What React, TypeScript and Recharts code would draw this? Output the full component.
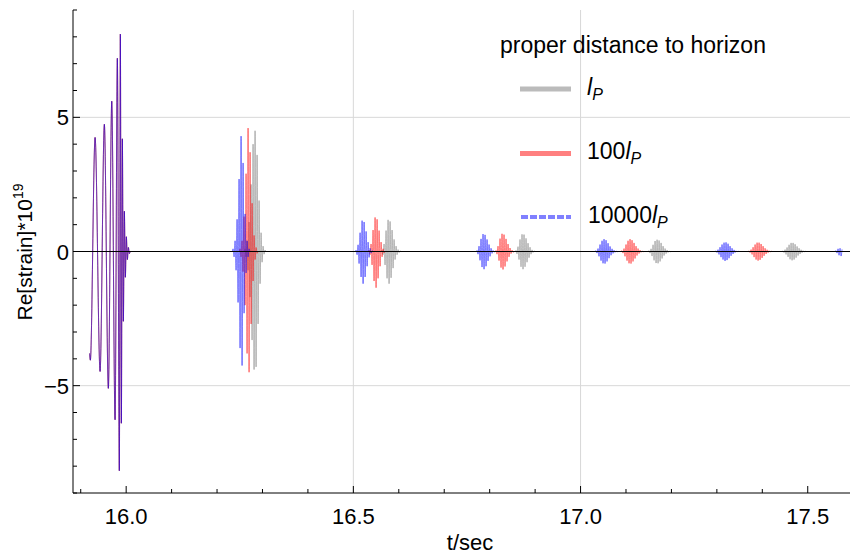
import { LineChart, Line, XAxis, YAxis, ReferenceLine } from 'recharts';

// main merger burst, shared by all three runs (t in sec, strain * 1e19)
const burstTimes = [
  15.9195, 15.9212, 15.9316, 15.9426, 15.952, 15.9608, 15.9683, 15.9756, 15.9806, 15.985,
  15.9872, 15.9894, 15.9916, 15.9938, 15.996, 15.9982, 16.0004, 16.0026, 16.0048, 16.007, 16.0092,
];
const burstValues = [
  -3.8, -4.05, 4.25, -4.47, 4.74, -5.1, 5.6, -6.27, 7.2, -8.17,
  8.1, -6.4, 4.2, -2.6, 1.5, -0.96, 0.55, -0.3, 0.15, -0.08, 0,
];

// echoes: one extremum per sample
const sampleStep = 0.0022;
const dataEnd = 17.5757;

const blueEchoStarts = [16.2353, 16.506, 16.7722, 17.0341, 17.2982, 17.5623];
const redEchoStarts = [16.2507, 16.5346, 16.814, 17.0913, 17.3709];
const grayEchoStarts = [16.2617, 16.5632, 16.858, 17.1508, 17.4457];

const blueEcho1 = [0.1, -0.2, 0.4, -0.7, 1.2, -1.9, 2.7, -3.6, 4.3, -4.25, 3.3, -2.3, 1.4, -0.8, 0.4, -0.2, 0.1];
const blueEcho2 = [0.05, -0.12, 0.25, -0.45, 0.7, -0.95, 1.15, -1.2, 1.1, -0.95, 0.75, -0.55, 0.35, -0.22, 0.12, -0.06, 0.03];
const blueEcho3 = [0.04, -0.1, 0.2, -0.33, 0.47, -0.58, 0.65, -0.66, 0.62, -0.55, 0.45, -0.35, 0.26, -0.18, 0.12, -0.07, 0.04, -0.02];
const blueEcho4 = [0.03, -0.06, 0.11, -0.18, 0.26, -0.34, 0.4, -0.44, 0.46, -0.45, 0.42, -0.37, 0.31, -0.25, 0.19, -0.14, 0.1, -0.07, 0.045, -0.03, 0.02, -0.01];
const blueEcho5 = [0.02, -0.04, 0.07, -0.11, 0.16, -0.21, 0.26, -0.3, 0.33, -0.35, 0.34, -0.32, 0.29, -0.25, 0.2, -0.16, 0.12, -0.09, 0.06, -0.04, 0.025, -0.015, 0.01];
const blueEcho6 = [0.03, -0.06, 0.1, -0.14, 0.12, -0.17, 0.08];

const redEcho1 = [0.1, -0.2, 0.4, -0.75, 1.3, -2.0, 2.9, -3.8, 4.6, -4.5, 3.7, -2.7, 1.8, -1.1, 0.6, -0.3, 0.15, -0.07];
const redEcho2 = [0.05, -0.12, 0.28, -0.5, 0.8, -1.1, 1.27, -1.35, 1.2, -1.0, 0.78, -0.55, 0.35, -0.2, 0.1, -0.05];
const redEcho3 = [0.04, -0.1, 0.2, -0.34, 0.48, -0.6, 0.66, -0.67, 0.63, -0.56, 0.47, -0.37, 0.28, -0.2, 0.13, -0.08, 0.05, -0.03];
const redEcho4 = [0.03, -0.06, 0.11, -0.18, 0.26, -0.34, 0.4, -0.44, 0.46, -0.45, 0.42, -0.37, 0.32, -0.26, 0.2, -0.15, 0.11, -0.075, 0.05, -0.03, 0.02, -0.01];
const redEcho5 = [0.02, -0.04, 0.07, -0.11, 0.16, -0.21, 0.26, -0.3, 0.33, -0.34, 0.33, -0.31, 0.28, -0.24, 0.2, -0.16, 0.12, -0.09, 0.065, -0.045, 0.03, -0.02, 0.01];

const grayEcho1 = [0.1, -0.2, 0.4, -0.7, 1.1, -1.7, 2.5, -3.3, 4.0, -4.4, 4.5, -4.3, 3.6, -2.7, 1.9, -1.2, 0.7, -0.4, 0.2, -0.1, 0.05];
const grayEcho2 = [0.05, -0.12, 0.28, -0.5, 0.78, -1.0, 1.18, -1.2, 1.12, -0.98, 0.8, -0.62, 0.45, -0.3, 0.2, -0.12, 0.07, -0.04, 0.02];
const grayEcho3 = [0.04, -0.09, 0.18, -0.3, 0.45, -0.57, 0.64, -0.66, 0.63, -0.57, 0.49, -0.4, 0.31, -0.23, 0.16, -0.1, 0.06, -0.035, 0.02];
const grayEcho4 = [0.03, -0.06, 0.1, -0.17, 0.25, -0.33, 0.39, -0.43, 0.44, -0.44, 0.41, -0.37, 0.32, -0.26, 0.2, -0.15, 0.11, -0.08, 0.055, -0.035, 0.02, -0.01];
const grayEcho5 = [0.02, -0.04, 0.07, -0.11, 0.15, -0.2, 0.25, -0.29, 0.32, -0.33, 0.32, -0.3, 0.27, -0.23, 0.19, -0.15, 0.12, -0.09, 0.065, -0.045, 0.03, -0.02, 0.01];

const xTicks = [15.9, 16, 16.1, 16.2, 16.3, 16.4, 16.5, 16.6, 16.7, 16.8, 16.9, 17, 17.1, 17.2, 17.3, 17.4, 17.5];
const xMajor = [16, 16.5, 17, 17.5];
const yTicks = [-9, -8, -7, -6, -5, -4, -3, -2, -1, 0, 1, 2, 3, 4, 5, 6, 7, 8, 9];
const yMajor = [-5, 0, 5];

const FONT = '"Liberation Sans", Arial, Helvetica, sans-serif';
const PLOT_LEFT = 73;
const PLOT_BOTTOM = 493;

type Pt = { t: number; v: number };

function buildSeries(starts: number[], echoes: number[][], openEnd: boolean): Pt[] {
  const pts: Pt[] = burstTimes.map((t, i) => ({ t, v: burstValues[i] }));
  echoes.forEach((vals, k) => {
    const s = starts[k];
    pts.push({ t: s - sampleStep, v: 0 });
    vals.forEach((v, i) => pts.push({ t: s + i * sampleStep, v }));
    if (!(openEnd && k === echoes.length - 1)) pts.push({ t: s + vals.length * sampleStep, v: 0 });
  });
  if (!openEnd) pts.push({ t: dataEnd, v: 0 });
  return pts;
}

const graySeries = buildSeries(grayEchoStarts, [grayEcho1, grayEcho2, grayEcho3, grayEcho4, grayEcho5], false);
const redSeries = buildSeries(redEchoStarts, [redEcho1, redEcho2, redEcho3, redEcho4, redEcho5], false);
const blueSeries = buildSeries(blueEchoStarts, [blueEcho1, blueEcho2, blueEcho3, blueEcho4, blueEcho5, blueEcho6], true);

const isIn = (arr: number[], v: number) => arr.some((a) => Math.abs(a - v) < 1e-6);

// ticks point into the plot, like the original frame
const XTick = (props: any) => {
  const { x, payload } = props;
  const major = isIn(xMajor, payload.value);
  const y = PLOT_BOTTOM;
  return (
    <g>
      <line x1={x} x2={x} y1={y} y2={y - (major ? 7 : 4)} stroke="#000" strokeWidth={1} />
      {major && (
        <text x={x} y={y + 31} textAnchor="middle" fontSize={22} fontFamily={FONT} fill="#000">
          {payload.value.toFixed(1)}
        </text>
      )}
    </g>
  );
};

const YTick = (props: any) => {
  const { y, payload } = props;
  const major = isIn(yMajor, payload.value);
  const x = PLOT_LEFT;
  const label = payload.value < 0 ? '\u2212' + Math.abs(payload.value) : String(payload.value);
  return (
    <g>
      <line x1={x} x2={x + (major ? 7 : 4)} y1={y} y2={y} stroke="#000" strokeWidth={1} />
      {major && (
        <text x={x - 4} y={y + 8} textAnchor="end" fontSize={22} fontFamily={FONT} fill="#000">
          {label}
        </text>
      )}
    </g>
  );
};

export default function App() {
  return (
    <div style={{ position: 'fixed', left: 0, top: 0, width: 850, height: 554, background: '#fff' }}>
      <LineChart width={850} height={554} margin={{ top: 10, right: 0, bottom: 0, left: 0 }}>
        <XAxis
          type="number"
          dataKey="t"
          domain={[15.883, 17.593]}
          allowDataOverflow
          ticks={xTicks}
          interval={0}
          tick={<XTick />}
          tickLine={false}
          height={61}
          axisLine={{ stroke: '#000', strokeWidth: 1 }}
        />
        <YAxis
          type="number"
          domain={[-9, 9]}
          allowDataOverflow
          ticks={yTicks}
          interval={0}
          tick={<YTick />}
          tickLine={false}
          width={73}
          axisLine={{ stroke: '#000', strokeWidth: 1 }}
        />
        <ReferenceLine x={16.5} stroke="#d8d8d8" strokeWidth={1} />
        <ReferenceLine x={17} stroke="#d8d8d8" strokeWidth={1} />
        <ReferenceLine y={5} stroke="#d8d8d8" strokeWidth={1} />
        <ReferenceLine y={-5} stroke="#d8d8d8" strokeWidth={1} />
        <Line data={graySeries} dataKey="v" type="monotone" stroke="#777777" strokeOpacity={0.5} strokeWidth={1} dot={false} isAnimationActive={false} />
        <Line data={redSeries} dataKey="v" type="monotone" stroke="#ff0000" strokeOpacity={0.5} strokeWidth={1} dot={false} isAnimationActive={false} />
        <Line data={blueSeries} dataKey="v" type="monotone" stroke="#0000ff" strokeOpacity={0.5} strokeWidth={1} dot={false} isAnimationActive={false} />
        <ReferenceLine y={0} stroke="#000" strokeWidth={1} />
      </LineChart>
      <svg width={850} height={554} style={{ position: 'absolute', left: 0, top: 0, pointerEvents: 'none' }} fontFamily={FONT}>
        <text x={470} y={550} textAnchor="middle" fontSize={22} fill="#000">t/sec</text>
        <text x={32} y={252} textAnchor="middle" fontSize={21} fill="#000" transform="rotate(-90 32 252)">
          Re[strain]*10<tspan fontSize={14} dy={-9}>19</tspan>
        </text>
        <text x={500} y={53} fontSize={23} fill="#000">proper distance to horizon</text>
        <line x1={520} x2={571} y1={89} y2={89} stroke="#bbbbbb" strokeWidth={5} />
        <text x={587} y={95} fontSize={23} fill="#000">
          <tspan fontStyle="italic">l</tspan>
          <tspan fontStyle="italic" fontSize={16} dy={5}>P</tspan>
        </text>
        <line x1={520} x2={571} y1={153.5} y2={153.5} stroke="#ff8080" strokeWidth={5} />
        <text x={587} y={159} fontSize={23} fill="#000">
          100<tspan fontStyle="italic">l</tspan>
          <tspan fontStyle="italic" fontSize={16} dy={5}>P</tspan>
        </text>
        <line x1={521} x2={571} y1={217} y2={217} stroke="#8080ff" strokeWidth={4} strokeDasharray="7 2" />
        <text x={588} y={223} fontSize={23} fill="#000">
          10000<tspan fontStyle="italic">l</tspan>
          <tspan fontStyle="italic" fontSize={16} dy={5}>P</tspan>
        </text>
      </svg>
    </div>
  );
}
